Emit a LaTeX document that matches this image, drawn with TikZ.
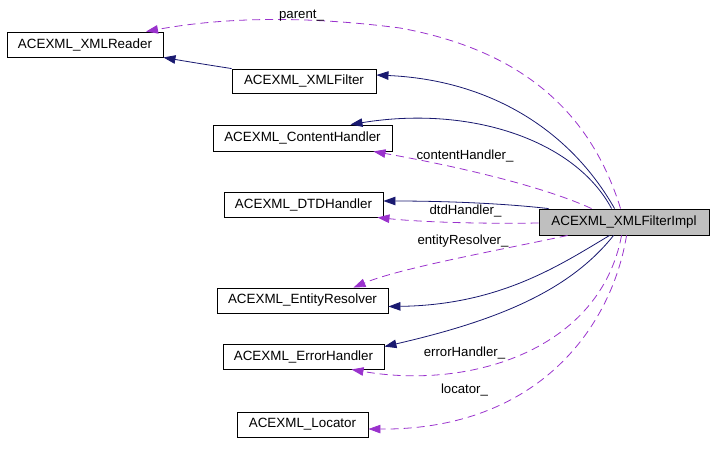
\documentclass[tikz,border=0pt]{standalone}
\usepackage{fontspec}
\setmainfont{Liberation Sans}
\usetikzlibrary{arrows.meta,calc}
\definecolor{navyc}{HTML}{191970}
\definecolor{purp}{HTML}{9A32CD}
\definecolor{boxgray}{HTML}{BFBFBF}
\begin{document}
\begin{tikzpicture}[x=1pt,y=-1pt,
 cls/.style={draw=black, line width=0.9pt, minimum height=25pt, inner sep=0pt, font=\fontsize{13.4}{15}\selectfont},
 inh/.style={draw=navyc, line width=0.8pt, -{Triangle[length=12pt,width=8.5pt,fill=navyc]}},
 use/.style={draw=purp, line width=0.8pt, dash pattern=on 8pt off 5pt, -{Triangle[length=12pt,width=8.5pt,fill=purp]}},
 lbl/.style={font=\fontsize{13.2}{15}\selectfont, inner sep=0pt, anchor=base}]
\useasboundingbox (0,0) rectangle (712,453);
% classes
\node[cls, minimum width=156pt] (reader) at (85,44.5) {ACEXML\_XMLReader};
\node[cls, minimum width=144pt, minimum height=24pt] (filter) at (304,81) {ACEXML\_XMLFilter};
\node[cls, minimum width=179pt, minimum height=26pt] (content) at (302.5,138) {ACEXML\_ContentHandler};
\node[cls, minimum width=159pt] (dtd) at (303.5,204.5) {ACEXML\_DTDHandler};
\node[cls, minimum width=170pt, minimum height=26pt, fill=boxgray] (impl) at (624,222) {ACEXML\_XMLFilterImpl};
\node[cls, minimum width=171pt] (ent) at (302.5,300.5) {ACEXML\_EntityResolver};
\node[cls, minimum width=161pt] (err) at (303.5,356.5) {ACEXML\_ErrorHandler};
\node[cls, minimum width=131pt] (loc) at (302.5,424.5) {ACEXML\_Locator};
% inheritance
\draw[inh] (filter.north west) .. controls (215,66) and (190,62) .. (reader.south east);
\draw[inh] ($(impl.north west)+(76,0)$) .. controls (570,130) and (490,80) .. ($(filter.east)+(0,-6)$);
\draw[inh] ($(impl.north west)+(73,0)$) .. controls (575,140) and (470,105) .. ($(content.north)+(48,0)$);
\draw[inh] ($(impl.north west)+(10,0)$) .. controls (500,203) and (440,201) .. ($(dtd.east)+(0,-3.5)$);
\draw[inh] ($(impl.south west)+(71,0)$) .. controls (560,265) and (500,305) .. ($(ent.east)+(0,6)$);
\draw[inh] ($(impl.south west)+(75,0)$) .. controls (570,290) and (500,320) .. ($(err.north east)+(0,3)$);
% usage
\draw[use] ($(impl.north west)+(82,0)$) .. controls (590,110) and (520,50) .. (400,28)
  .. controls (300,15) and (220,18) .. ($(reader.north)+(61,0)$);
\draw[use] ($(impl.north west)+(53,0)$) .. controls (540,185) and (450,165) .. ($(content.south east)+(-19,0)$);
\draw[use] ($(impl.west)+(0,1)$) .. controls (480,224) and (420,222) .. ($(dtd.south east)+(-6,0)$);
\draw[use] ($(impl.south west)+(29,0)$) .. controls (500,250) and (400,268) .. ($(ent.north)+(51,0)$);
\draw[use] ($(impl.south west)+(83,0)$) .. controls (600,350) and (470,390) .. ($(err.south)+(48,0)$);
\draw[use] ($(impl.south west)+(88,0)$) .. controls (612,325) and (540,430) .. ($(loc.east)+(0,4.5)$);
% labels
\node[lbl] (lparent) at (301.5,18.5) {parent\_};
\node[lbl] (lcontent) at (465,159) {contentHandler\_};
\node[lbl] (ldtd) at (465.5,214.5) {dtdHandler\_};
\node[lbl] (lent) at (463,244) {entityResolver\_};
\node[lbl] (lerr) at (464.5,356.5) {errorHandler\_};
\node[lbl] (lloc) at (464.5,393) {locator\_};
\end{tikzpicture}
\end{document}
